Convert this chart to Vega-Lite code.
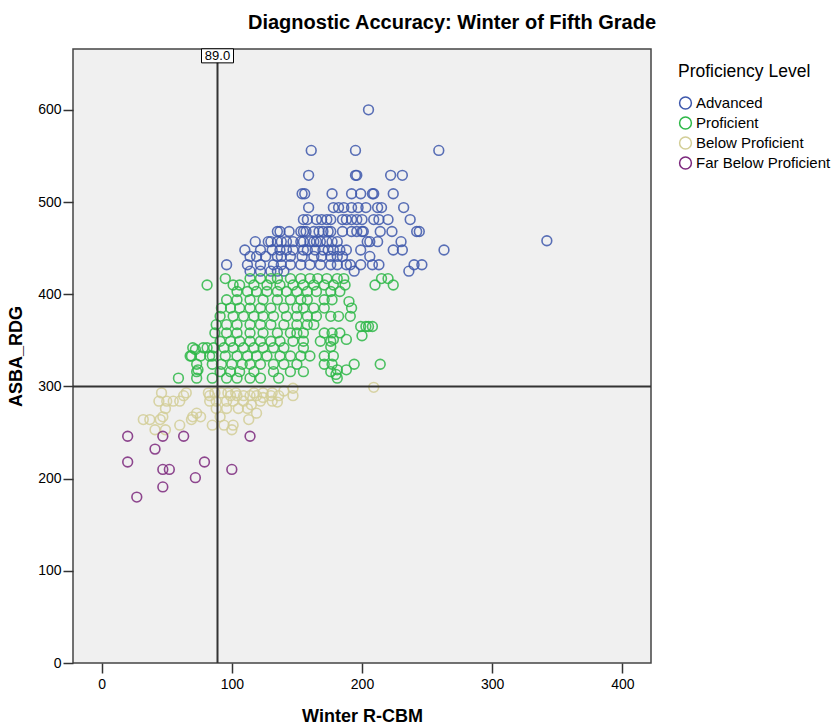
{
  "$schema": "https://vega.github.io/schema/vega-lite/v6.json",
  "width": 578,
  "height": 614,
  "autosize": {"type": "none"},
  "padding": {"left": 73, "top": 49, "right": 184, "bottom": 64},
  "background": "white",
  "title": {"text": "Diagnostic Accuracy: Winter of Fifth Grade", "font": "Liberation Sans", "fontSize": 20, "fontWeight": "bold", "color": "#000000", "anchor": "middle", "frame": "group", "offset": 14, "dx": 90},
  "config": {
    "view": {"fill": "#F0F0F0", "stroke": "#444444", "strokeWidth": 1.5},
    "axis": {"grid": false, "domain": false, "tickColor": "#333333", "tickWidth": 1.5, "tickSize": 10, "labelFont": "Liberation Sans", "labelFontSize": 14, "labelColor": "#000000", "titleFont": "Liberation Sans", "titleFontSize": 18, "titleFontWeight": "bold", "titleColor": "#000000"},
    "legend": {"labelFont": "Liberation Sans", "titleFont": "Liberation Sans"}
  },
  "datasets": {
    "pts": [
      {"x":205,"y":600,"g":"Advanced"},
      {"x":161,"y":556,"g":"Advanced"},{"x":195,"y":556,"g":"Advanced"},{"x":259,"y":556,"g":"Advanced"},
      {"x":159,"y":529,"g":"Advanced"},{"x":195,"y":529,"g":"Advanced"},{"x":196,"y":529,"g":"Advanced"},{"x":222,"y":529,"g":"Advanced"},{"x":231,"y":529,"g":"Advanced"},
      {"x":154,"y":509,"g":"Advanced"},{"x":156,"y":509,"g":"Advanced"},{"x":177,"y":509,"g":"Advanced"},{"x":192,"y":509,"g":"Advanced"},{"x":199,"y":509,"g":"Advanced"},{"x":208,"y":509,"g":"Advanced"},{"x":209,"y":509,"g":"Advanced"},{"x":224,"y":509,"g":"Advanced"},
      {"x":159,"y":494,"g":"Advanced"},{"x":178,"y":494,"g":"Advanced"},{"x":182,"y":494,"g":"Advanced"},{"x":186,"y":494,"g":"Advanced"},{"x":192,"y":494,"g":"Advanced"},{"x":197,"y":494,"g":"Advanced"},{"x":203,"y":494,"g":"Advanced"},{"x":212,"y":494,"g":"Advanced"},{"x":215,"y":494,"g":"Advanced"},{"x":232,"y":494,"g":"Advanced"},
      {"x":155,"y":481,"g":"Advanced"},{"x":158,"y":481,"g":"Advanced"},{"x":165,"y":481,"g":"Advanced"},{"x":169,"y":481,"g":"Advanced"},{"x":173,"y":481,"g":"Advanced"},{"x":176,"y":481,"g":"Advanced"},{"x":185,"y":481,"g":"Advanced"},{"x":188,"y":481,"g":"Advanced"},{"x":192,"y":481,"g":"Advanced"},{"x":196,"y":481,"g":"Advanced"},{"x":200,"y":481,"g":"Advanced"},{"x":209,"y":481,"g":"Advanced"},{"x":213,"y":481,"g":"Advanced"},{"x":220,"y":481,"g":"Advanced"},{"x":237,"y":481,"g":"Advanced"},
      {"x":135,"y":468,"g":"Advanced"},{"x":137,"y":468,"g":"Advanced"},{"x":144,"y":468,"g":"Advanced"},{"x":153,"y":468,"g":"Advanced"},{"x":155,"y":468,"g":"Advanced"},{"x":157,"y":468,"g":"Advanced"},{"x":163,"y":468,"g":"Advanced"},{"x":167,"y":468,"g":"Advanced"},{"x":170,"y":468,"g":"Advanced"},{"x":174,"y":468,"g":"Advanced"},{"x":176,"y":468,"g":"Advanced"},{"x":185,"y":468,"g":"Advanced"},{"x":192,"y":468,"g":"Advanced"},{"x":196,"y":468,"g":"Advanced"},{"x":200,"y":468,"g":"Advanced"},{"x":201,"y":468,"g":"Advanced"},{"x":214,"y":468,"g":"Advanced"},{"x":223,"y":468,"g":"Advanced"},{"x":242,"y":468,"g":"Advanced"},{"x":244,"y":468,"g":"Advanced"},
      {"x":118,"y":457,"g":"Advanced"},{"x":128,"y":457,"g":"Advanced"},{"x":130,"y":457,"g":"Advanced"},{"x":135,"y":457,"g":"Advanced"},{"x":138,"y":457,"g":"Advanced"},{"x":142,"y":457,"g":"Advanced"},{"x":147,"y":457,"g":"Advanced"},{"x":153,"y":457,"g":"Advanced"},{"x":155,"y":457,"g":"Advanced"},{"x":160,"y":457,"g":"Advanced"},{"x":163,"y":457,"g":"Advanced"},{"x":165,"y":457,"g":"Advanced"},{"x":168,"y":457,"g":"Advanced"},{"x":173,"y":457,"g":"Advanced"},{"x":177,"y":457,"g":"Advanced"},{"x":181,"y":457,"g":"Advanced"},{"x":204,"y":457,"g":"Advanced"},{"x":206,"y":457,"g":"Advanced"},{"x":212,"y":457,"g":"Advanced"},{"x":230,"y":457,"g":"Advanced"},
      {"x":110,"y":448,"g":"Advanced"},{"x":122,"y":448,"g":"Advanced"},{"x":131,"y":448,"g":"Advanced"},{"x":137,"y":448,"g":"Advanced"},{"x":142,"y":448,"g":"Advanced"},{"x":147,"y":448,"g":"Advanced"},{"x":155,"y":448,"g":"Advanced"},{"x":158,"y":448,"g":"Advanced"},{"x":164,"y":448,"g":"Advanced"},{"x":170,"y":448,"g":"Advanced"},{"x":174,"y":448,"g":"Advanced"},{"x":178,"y":448,"g":"Advanced"},{"x":183,"y":448,"g":"Advanced"},{"x":188,"y":448,"g":"Advanced"},{"x":199,"y":448,"g":"Advanced"},{"x":224,"y":448,"g":"Advanced"},{"x":231,"y":448,"g":"Advanced"},{"x":263,"y":448,"g":"Advanced"},
      {"x":114,"y":441,"g":"Advanced"},{"x":119,"y":441,"g":"Advanced"},{"x":126,"y":441,"g":"Advanced"},{"x":135,"y":441,"g":"Advanced"},{"x":138,"y":441,"g":"Advanced"},{"x":145,"y":441,"g":"Advanced"},{"x":154,"y":441,"g":"Advanced"},{"x":163,"y":441,"g":"Advanced"},{"x":169,"y":441,"g":"Advanced"},{"x":176,"y":441,"g":"Advanced"},{"x":181,"y":441,"g":"Advanced"},{"x":185,"y":441,"g":"Advanced"},{"x":206,"y":441,"g":"Advanced"},
      {"x":96,"y":432,"g":"Advanced"},{"x":112,"y":432,"g":"Advanced"},{"x":122,"y":432,"g":"Advanced"},{"x":132,"y":432,"g":"Advanced"},{"x":138,"y":432,"g":"Advanced"},{"x":145,"y":432,"g":"Advanced"},{"x":153,"y":432,"g":"Advanced"},{"x":160,"y":432,"g":"Advanced"},{"x":168,"y":432,"g":"Advanced"},{"x":176,"y":432,"g":"Advanced"},{"x":181,"y":432,"g":"Advanced"},{"x":188,"y":432,"g":"Advanced"},{"x":191,"y":432,"g":"Advanced"},{"x":199,"y":432,"g":"Advanced"},{"x":208,"y":432,"g":"Advanced"},{"x":213,"y":432,"g":"Advanced"},{"x":240,"y":432,"g":"Advanced"},{"x":246,"y":432,"g":"Advanced"},
      {"x":114,"y":425,"g":"Advanced"},{"x":122,"y":425,"g":"Advanced"},{"x":130,"y":425,"g":"Advanced"},{"x":135,"y":425,"g":"Advanced"},{"x":140,"y":425,"g":"Advanced"},{"x":194,"y":425,"g":"Advanced"},{"x":236,"y":425,"g":"Advanced"},
      {"x":342,"y":458,"g":"Advanced"},

      {"x":95,"y":417,"g":"Proficient"},{"x":114,"y":417,"g":"Proficient"},{"x":122,"y":417,"g":"Proficient"},{"x":130,"y":417,"g":"Proficient"},{"x":135,"y":417,"g":"Proficient"},{"x":145,"y":417,"g":"Proficient"},{"x":153,"y":417,"g":"Proficient"},{"x":160,"y":417,"g":"Proficient"},{"x":166,"y":417,"g":"Proficient"},{"x":173,"y":417,"g":"Proficient"},{"x":181,"y":417,"g":"Proficient"},{"x":186,"y":417,"g":"Proficient"},{"x":215,"y":417,"g":"Proficient"},{"x":220,"y":417,"g":"Proficient"},
      {"x":81,"y":410,"g":"Proficient"},{"x":101,"y":410,"g":"Proficient"},{"x":106,"y":410,"g":"Proficient"},{"x":117,"y":410,"g":"Proficient"},{"x":127,"y":410,"g":"Proficient"},{"x":137,"y":410,"g":"Proficient"},{"x":147,"y":410,"g":"Proficient"},{"x":155,"y":410,"g":"Proficient"},{"x":163,"y":410,"g":"Proficient"},{"x":171,"y":410,"g":"Proficient"},{"x":178,"y":410,"g":"Proficient"},{"x":187,"y":410,"g":"Proficient"},{"x":210,"y":410,"g":"Proficient"},{"x":224,"y":410,"g":"Proficient"},
      {"x":104,"y":403,"g":"Proficient"},{"x":112,"y":403,"g":"Proficient"},{"x":119,"y":403,"g":"Proficient"},{"x":127,"y":403,"g":"Proficient"},{"x":135,"y":403,"g":"Proficient"},{"x":142,"y":403,"g":"Proficient"},{"x":150,"y":403,"g":"Proficient"},{"x":158,"y":403,"g":"Proficient"},{"x":165,"y":403,"g":"Proficient"},{"x":176,"y":403,"g":"Proficient"},{"x":183,"y":403,"g":"Proficient"},
      {"x":96,"y":394,"g":"Proficient"},{"x":104,"y":394,"g":"Proficient"},{"x":114,"y":394,"g":"Proficient"},{"x":124,"y":394,"g":"Proficient"},{"x":135,"y":394,"g":"Proficient"},{"x":145,"y":394,"g":"Proficient"},{"x":153,"y":394,"g":"Proficient"},{"x":158,"y":394,"g":"Proficient"},{"x":171,"y":394,"g":"Proficient"},{"x":177,"y":394,"g":"Proficient"},{"x":190,"y":392,"g":"Proficient"},
      {"x":92,"y":385,"g":"Proficient"},{"x":99,"y":385,"g":"Proficient"},{"x":106,"y":385,"g":"Proficient"},{"x":114,"y":385,"g":"Proficient"},{"x":122,"y":385,"g":"Proficient"},{"x":130,"y":385,"g":"Proficient"},{"x":140,"y":385,"g":"Proficient"},{"x":150,"y":385,"g":"Proficient"},{"x":155,"y":385,"g":"Proficient"},{"x":163,"y":385,"g":"Proficient"},{"x":171,"y":385,"g":"Proficient"},{"x":192,"y":385,"g":"Proficient"},
      {"x":91,"y":376,"g":"Proficient"},{"x":101,"y":376,"g":"Proficient"},{"x":109,"y":376,"g":"Proficient"},{"x":117,"y":376,"g":"Proficient"},{"x":124,"y":376,"g":"Proficient"},{"x":132,"y":376,"g":"Proficient"},{"x":142,"y":376,"g":"Proficient"},{"x":150,"y":376,"g":"Proficient"},{"x":158,"y":376,"g":"Proficient"},{"x":165,"y":376,"g":"Proficient"},{"x":176,"y":376,"g":"Proficient"},{"x":182,"y":376,"g":"Proficient"},{"x":191,"y":376,"g":"Proficient"},
      {"x":88,"y":367,"g":"Proficient"},{"x":96,"y":367,"g":"Proficient"},{"x":104,"y":367,"g":"Proficient"},{"x":114,"y":367,"g":"Proficient"},{"x":122,"y":367,"g":"Proficient"},{"x":130,"y":367,"g":"Proficient"},{"x":140,"y":367,"g":"Proficient"},{"x":150,"y":367,"g":"Proficient"},{"x":158,"y":367,"g":"Proficient"},{"x":163,"y":367,"g":"Proficient"},{"x":199,"y":365,"g":"Proficient"},{"x":203,"y":365,"g":"Proficient"},{"x":205,"y":365,"g":"Proficient"},{"x":208,"y":365,"g":"Proficient"},
      {"x":87,"y":358,"g":"Proficient"},{"x":96,"y":358,"g":"Proficient"},{"x":104,"y":358,"g":"Proficient"},{"x":114,"y":358,"g":"Proficient"},{"x":124,"y":358,"g":"Proficient"},{"x":135,"y":358,"g":"Proficient"},{"x":145,"y":358,"g":"Proficient"},{"x":150,"y":358,"g":"Proficient"},{"x":155,"y":358,"g":"Proficient"},{"x":171,"y":358,"g":"Proficient"},{"x":177,"y":358,"g":"Proficient"},{"x":183,"y":358,"g":"Proficient"},{"x":200,"y":355,"g":"Proficient"},
      {"x":91,"y":349,"g":"Proficient"},{"x":99,"y":349,"g":"Proficient"},{"x":106,"y":349,"g":"Proficient"},{"x":114,"y":349,"g":"Proficient"},{"x":122,"y":349,"g":"Proficient"},{"x":130,"y":349,"g":"Proficient"},{"x":137,"y":349,"g":"Proficient"},{"x":147,"y":349,"g":"Proficient"},{"x":155,"y":349,"g":"Proficient"},{"x":168,"y":349,"g":"Proficient"},{"x":176,"y":349,"g":"Proficient"},{"x":178,"y":351,"g":"Proficient"},{"x":188,"y":351,"g":"Proficient"},
      {"x":70,"y":342,"g":"Proficient"},{"x":72,"y":340,"g":"Proficient"},{"x":78,"y":342,"g":"Proficient"},{"x":81,"y":342,"g":"Proficient"},{"x":86,"y":342,"g":"Proficient"},{"x":94,"y":342,"g":"Proficient"},{"x":101,"y":342,"g":"Proficient"},{"x":109,"y":342,"g":"Proficient"},{"x":117,"y":342,"g":"Proficient"},{"x":124,"y":342,"g":"Proficient"},{"x":132,"y":342,"g":"Proficient"},{"x":140,"y":342,"g":"Proficient"},{"x":155,"y":342,"g":"Proficient"},{"x":176,"y":343,"g":"Proficient"},
      {"x":68,"y":333,"g":"Proficient"},{"x":69,"y":333,"g":"Proficient"},{"x":76,"y":333,"g":"Proficient"},{"x":83,"y":333,"g":"Proficient"},{"x":85,"y":333,"g":"Proficient"},{"x":95,"y":333,"g":"Proficient"},{"x":104,"y":333,"g":"Proficient"},{"x":112,"y":333,"g":"Proficient"},{"x":119,"y":333,"g":"Proficient"},{"x":127,"y":333,"g":"Proficient"},{"x":137,"y":333,"g":"Proficient"},{"x":145,"y":333,"g":"Proficient"},{"x":153,"y":333,"g":"Proficient"},{"x":160,"y":333,"g":"Proficient"},{"x":171,"y":333,"g":"Proficient"},{"x":178,"y":333,"g":"Proficient"},
      {"x":73,"y":324,"g":"Proficient"},{"x":85,"y":324,"g":"Proficient"},{"x":92,"y":324,"g":"Proficient"},{"x":100,"y":324,"g":"Proficient"},{"x":108,"y":324,"g":"Proficient"},{"x":114,"y":324,"g":"Proficient"},{"x":122,"y":324,"g":"Proficient"},{"x":132,"y":324,"g":"Proficient"},{"x":140,"y":324,"g":"Proficient"},{"x":150,"y":324,"g":"Proficient"},{"x":171,"y":324,"g":"Proficient"},{"x":177,"y":324,"g":"Proficient"},{"x":194,"y":324,"g":"Proficient"},{"x":214,"y":324,"g":"Proficient"},
      {"x":73,"y":316,"g":"Proficient"},{"x":74,"y":318,"g":"Proficient"},{"x":91,"y":316,"g":"Proficient"},{"x":99,"y":316,"g":"Proficient"},{"x":106,"y":316,"g":"Proficient"},{"x":117,"y":316,"g":"Proficient"},{"x":132,"y":316,"g":"Proficient"},{"x":145,"y":316,"g":"Proficient"},{"x":155,"y":316,"g":"Proficient"},{"x":176,"y":316,"g":"Proficient"},{"x":181,"y":318,"g":"Proficient"},{"x":188,"y":318,"g":"Proficient"},
      {"x":59,"y":309,"g":"Proficient"},{"x":73,"y":309,"g":"Proficient"},{"x":85,"y":309,"g":"Proficient"},{"x":96,"y":309,"g":"Proficient"},{"x":104,"y":309,"g":"Proficient"},{"x":114,"y":309,"g":"Proficient"},{"x":122,"y":309,"g":"Proficient"},{"x":136,"y":309,"g":"Proficient"},{"x":180,"y":313,"g":"Proficient"},{"x":181,"y":309,"g":"Proficient"},

      {"x":209,"y":299,"g":"Below Proficient"},
      {"x":46,"y":293,"g":"Below Proficient"},{"x":65,"y":293,"g":"Below Proficient"},{"x":82,"y":293,"g":"Below Proficient"},{"x":87,"y":293,"g":"Below Proficient"},{"x":92,"y":293,"g":"Below Proficient"},{"x":97,"y":293,"g":"Below Proficient"},{"x":103,"y":293,"g":"Below Proficient"},{"x":117,"y":293,"g":"Below Proficient"},{"x":124,"y":293,"g":"Below Proficient"},{"x":131,"y":293,"g":"Below Proficient"},{"x":140,"y":295,"g":"Below Proficient"},{"x":147,"y":298,"g":"Below Proficient"},
      {"x":63,"y":290,"g":"Below Proficient"},{"x":83,"y":290,"g":"Below Proficient"},{"x":99,"y":290,"g":"Below Proficient"},{"x":104,"y":290,"g":"Below Proficient"},{"x":109,"y":290,"g":"Below Proficient"},{"x":114,"y":290,"g":"Below Proficient"},{"x":119,"y":290,"g":"Below Proficient"},{"x":124,"y":288,"g":"Below Proficient"},{"x":130,"y":290,"g":"Below Proficient"},{"x":136,"y":290,"g":"Below Proficient"},{"x":147,"y":290,"g":"Below Proficient"},
      {"x":44,"y":284,"g":"Below Proficient"},{"x":50,"y":284,"g":"Below Proficient"},{"x":55,"y":284,"g":"Below Proficient"},{"x":60,"y":284,"g":"Below Proficient"},{"x":83,"y":284,"g":"Below Proficient"},{"x":88,"y":284,"g":"Below Proficient"},{"x":96,"y":284,"g":"Below Proficient"},{"x":101,"y":284,"g":"Below Proficient"},{"x":109,"y":284,"g":"Below Proficient"},{"x":122,"y":284,"g":"Below Proficient"},{"x":131,"y":284,"g":"Below Proficient"},{"x":135,"y":283,"g":"Below Proficient"},
      {"x":49,"y":276,"g":"Below Proficient"},{"x":88,"y":276,"g":"Below Proficient"},{"x":96,"y":276,"g":"Below Proficient"},{"x":105,"y":276,"g":"Below Proficient"},{"x":115,"y":280,"g":"Below Proficient"},{"x":112,"y":276,"g":"Below Proficient"},
      {"x":73,"y":271,"g":"Below Proficient"},{"x":119,"y":271,"g":"Below Proficient"},
      {"x":47,"y":267,"g":"Below Proficient"},{"x":70,"y":267,"g":"Below Proficient"},{"x":76,"y":267,"g":"Below Proficient"},{"x":91,"y":267,"g":"Below Proficient"},
      {"x":32,"y":264,"g":"Below Proficient"},{"x":37,"y":264,"g":"Below Proficient"},{"x":45,"y":264,"g":"Below Proficient"},{"x":69,"y":264,"g":"Below Proficient"},{"x":113,"y":264,"g":"Below Proficient"},
      {"x":60,"y":258,"g":"Below Proficient"},{"x":85,"y":258,"g":"Below Proficient"},{"x":94,"y":258,"g":"Below Proficient"},{"x":101,"y":258,"g":"Below Proficient"},
      {"x":41,"y":253,"g":"Below Proficient"},{"x":49,"y":253,"g":"Below Proficient"},{"x":100,"y":253,"g":"Below Proficient"},

      {"x":20,"y":246,"g":"Far Below Proficient"},{"x":47,"y":246,"g":"Far Below Proficient"},{"x":63,"y":246,"g":"Far Below Proficient"},{"x":114,"y":246,"g":"Far Below Proficient"},
      {"x":41,"y":232,"g":"Far Below Proficient"},{"x":20,"y":218,"g":"Far Below Proficient"},{"x":79,"y":218,"g":"Far Below Proficient"},
      {"x":47,"y":210,"g":"Far Below Proficient"},{"x":52,"y":210,"g":"Far Below Proficient"},{"x":100,"y":210,"g":"Far Below Proficient"},
      {"x":72,"y":201,"g":"Far Below Proficient"},{"x":47,"y":191,"g":"Far Below Proficient"},{"x":27,"y":180,"g":"Far Below Proficient"}
    ]
  },
  "layer": [
    {
      "data": {"name": "pts"},
      "mark": {"type": "point", "filled": false, "size": 95, "strokeWidth": 1.6, "opacity": 0.85},
      "encoding": {
        "x": {"field": "x", "type": "quantitative", "scale": {"domain": [-22, 422], "nice": false, "zero": false}, "axis": {"values": [0, 100, 200, 300, 400], "title": "Winter R-CBM", "labelPadding": 4, "titlePadding": 16}},
        "y": {"field": "y", "type": "quantitative", "scale": {"domain": [0, 666], "nice": false}, "axis": {"values": [0, 100, 200, 300, 400, 500, 600], "title": "ASBA_RDG", "labelPadding": 2, "titlePadding": 12}},
        "color": {"field": "g", "type": "nominal", "scale": {"domain": ["Advanced", "Proficient", "Below Proficient", "Far Below Proficient"], "range": ["#3E58AC", "#2EB848", "#D3CE97", "#7C287D"]},
          "legend": {"title": "Proficiency Level", "orient": "none", "legendX": 605, "legendY": 14, "padding": 0, "titleFontSize": 17.5, "titleFontWeight": "normal", "titleColor": "#000000", "titlePadding": 15, "labelFontSize": 15, "labelColor": "#000000", "labelOffset": 3, "rowPadding": 1, "symbolSize": 140, "symbolStrokeWidth": 1.5, "symbolType": "circle", "symbolFillColor": "transparent", "symbolOpacity": 1}}
      }
    },
    {
      "data": {"values": [{"x": 89}]},
      "mark": {"type": "rule", "color": "#333333", "strokeWidth": 2},
      "encoding": {"x": {"field": "x", "type": "quantitative"}}
    },
    {
      "data": {"values": [{"y": 300}]},
      "mark": {"type": "rule", "color": "#333333", "strokeWidth": 2},
      "encoding": {"y": {"field": "y", "type": "quantitative"}}
    },
    {
      "data": {"values": [{"x": 89, "y": 658.6, "t": "89.0"}]},
      "mark": {"type": "point", "shape": "M-1,-0.44H1V0.44H-1Z", "size": 1024, "filled": true, "fill": "#FFFFFF", "stroke": "#000000", "strokeWidth": 1, "opacity": 1},
      "encoding": {"x": {"field": "x", "type": "quantitative"}, "y": {"field": "y", "type": "quantitative"}}
    },
    {
      "data": {"values": [{"x": 89, "y": 658.6, "t": "89.0"}]},
      "mark": {"type": "text", "font": "Liberation Sans", "fontSize": 13, "color": "#000000", "align": "center", "baseline": "middle"},
      "encoding": {"x": {"field": "x", "type": "quantitative"}, "y": {"field": "y", "type": "quantitative"}, "text": {"field": "t"}}
    }
  ]
}
